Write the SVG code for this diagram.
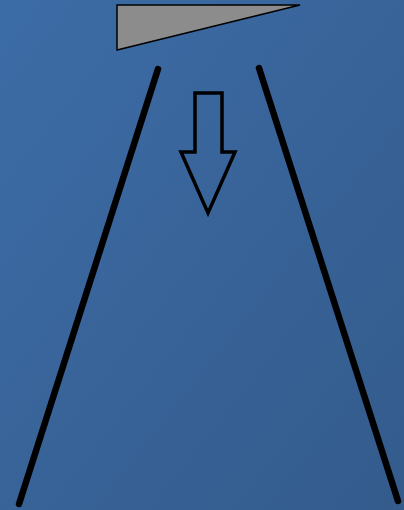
<svg xmlns="http://www.w3.org/2000/svg" width="404" height="510" viewBox="0 0 404 510">
<defs>
<linearGradient id="bg" x1="0" y1="0" x2="1" y2="1">
<stop offset="0" stop-color="#3c6ca6"/>
<stop offset="1" stop-color="#345b8c"/>
</linearGradient>
<style>
.wall{stroke:#000;stroke-width:6.5;stroke-linecap:round;fill:none}
</style>
</defs>
<rect width="404" height="510" fill="url(#bg)"/>
<g id="wedge"><polygon points="117,5 300,5 117,50" fill="#8c8c8c" stroke="#000" stroke-width="1.5"/></g>
<g id="arrow"><polygon points="195,93 222,93 222,152 235,152 208,213 181,152 195,152" fill="none" stroke="#000" stroke-width="3.5"/></g>
<g id="walls">
<line class="wall" x1="158" y1="69" x2="19" y2="504"/>
<line class="wall" x1="259" y1="68" x2="398" y2="501"/>
</g>
</svg>
